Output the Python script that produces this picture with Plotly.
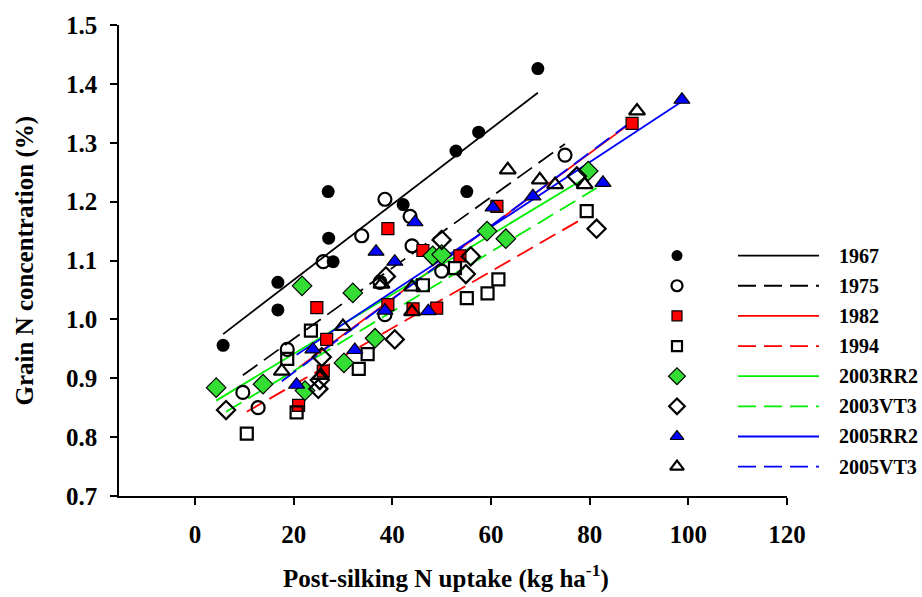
import plotly.graph_objects as go

# ---------------- data ----------------
series_names = ["1967", "1975", "1982", "1994", "2003RR2", "2003VT3", "2005RR2", "2005VT3"]

x_1967 = [5.7, 16.8, 16.8, 27.0, 27.1, 28.0, 42.2, 52.9, 55.1, 57.5, 69.5]
y_1967 = [0.956, 1.063, 1.016, 1.217, 1.138, 1.098, 1.195, 1.286, 1.217, 1.318, 1.426]

x_1975 = [9.7, 12.8, 18.7, 26.0, 33.8, 38.5, 38.5, 37.5, 43.6, 44.0, 50.0, 75.0]
y_1975 = [0.876, 0.850, 0.949, 1.098, 1.142, 1.204, 1.008, 1.063, 1.175, 1.125, 1.082, 1.279]

x_1982 = [21.0, 24.7, 26.7, 26.0, 39.1, 39.1, 44.2, 46.2, 49.0, 53.7, 61.2, 88.6]
y_1982 = [0.854, 1.020, 0.966, 0.912, 1.154, 1.025, 1.018, 1.117, 1.019, 1.108, 1.192, 1.333]

x_1994 = [10.5, 20.6, 18.7, 23.5, 33.2, 35.0, 46.2, 52.7, 55.1, 59.3, 61.5, 79.4]
y_1994 = [0.806, 0.842, 0.933, 0.981, 0.916, 0.941, 1.058, 1.087, 1.036, 1.044, 1.068, 1.184]

x_2003RR2 = [4.3, 13.8, 21.7, 22.3, 30.2, 32.0, 36.5, 48.2, 50.0, 59.2, 63.0, 79.7]
y_2003RR2 = [0.884, 0.890, 1.057, 0.879, 0.926, 1.045, 0.968, 1.108, 1.110, 1.150, 1.137, 1.252]

x_2003VT3 = [6.3, 25.7, 25.0, 25.3, 38.7, 40.5, 50.0, 55.9, 54.9, 77.4, 81.4]
y_2003VT3 = [0.846, 0.936, 0.882, 0.897, 1.073, 0.966, 1.135, 1.107, 1.077, 1.243, 1.154]

x_2005RR2 = [20.6, 23.9, 32.4, 36.7, 38.5, 40.5, 44.6, 47.3, 60.4, 68.5, 82.7, 98.7]
y_2005RR2 = [0.889, 0.949, 0.948, 1.115, 1.015, 1.098, 1.165, 1.014, 1.190, 1.209, 1.232, 1.373]

x_2005VT3 = [17.6, 25.5, 30.0, 37.8, 44.0, 44.0, 63.4, 69.9, 73.0, 79.0, 89.6]
y_2005VT3 = [0.912, 0.905, 0.988, 1.060, 1.055, 1.013, 1.254, 1.237, 1.229, 1.229, 1.354]

# regression-line end points (one entry per series)
fit_x0 = [5.7, 9.7, 21.0, 10.5, 4.3, 6.3, 20.6, 17.6]
fit_y0 = [0.975, 0.905, 0.918, 0.843, 0.862, 0.843, 0.940, 0.895]
fit_x1 = [69.5, 75.0, 88.6, 79.4, 79.7, 81.4, 98.7, 89.6]
fit_y1 = [1.385, 1.298, 1.335, 1.175, 1.243, 1.223, 1.370, 1.343]

x_ticks = [0, 20, 40, 60, 80, 100, 120]
y_ticks = [0.7, 0.8, 0.9, 1.0, 1.1, 1.2, 1.3, 1.4, 1.5]
x_range = [-15.4, 120]
y_range = [0.7, 1.5]

# ---------------- styles ----------------
RED, GREEN, BLUE = "#FF0000", "#00EE00", "#0000FF"
GREEN_FILL = "#33DD33"
DASH = "18px,8px"
styles = {
    "1967":    dict(symbol="circle", color="black", lw=0, size=13, line_color="black", dash="solid"),
    "1975":    dict(symbol="circle-open", color="black", lw=2.2, size=13, line_color="black", dash=DASH),
    "1982":    dict(symbol="square", color=RED, lw=1.2, size=12, line_color=RED, dash="solid"),
    "1994":    dict(symbol="square-open", color="black", lw=2.2, size=12, line_color=RED, dash=DASH),
    "2003RR2": dict(symbol="diamond", color=GREEN_FILL, lw=1.2, size=15, line_color=GREEN, dash="solid"),
    "2003VT3": dict(symbol="diamond-open", color="black", lw=2.2, size=14, line_color=GREEN, dash=DASH),
    "2005RR2": dict(symbol="triangle-up", color=BLUE, lw=1.2, size=14, line_color=BLUE, dash="solid"),
    "2005VT3": dict(symbol="triangle-up-open", color="black", lw=2.2, size=14, line_color=BLUE, dash=DASH),
}
xs = [x_1967, x_1975, x_1982, x_1994, x_2003RR2, x_2003VT3, x_2005RR2, x_2005VT3]
ys = [y_1967, y_1975, y_1982, y_1994, y_2003RR2, y_2003VT3, y_2005RR2, y_2005VT3]

FONT = "Times New Roman, Liberation Serif, serif"
W, H = 922, 597
L, R, T, B = 119, 787, 18, 496   # plot area in pixels

fig = go.Figure()

# regression lines
for i, name in enumerate(series_names):
    st = styles[name]
    fig.add_trace(go.Scatter(
        x=[fit_x0[i], fit_x1[i]], y=[fit_y0[i], fit_y1[i]], mode="lines",
        line=dict(color=st["line_color"], width=1.8, dash=st["dash"]),
        showlegend=False, hoverinfo="skip"))

# points
for i, name in enumerate(series_names):
    st = styles[name]
    fig.add_trace(go.Scatter(
        x=xs[i], y=ys[i], mode="markers", name=name, showlegend=False,
        marker=dict(symbol=st["symbol"], size=st["size"], color=st["color"],
                    line=dict(color="black", width=st["lw"]))))

# ---------------- custom legend (positions in pixels) ----------------
def px_x(px):
    return (px - L) / (R - L)

def px_y(py):
    return (B - py) / (B - T)

row0, row_step = 252, 30.6
for i, name in enumerate(series_names):
    st = styles[name]
    yy = px_y(row0 + i * row_step)
    fig.add_trace(go.Scatter(
        x=[px_x(677)], y=[yy], xaxis="x2", yaxis="y2", mode="markers",
        showlegend=False, hoverinfo="skip", cliponaxis=False,
        marker=dict(symbol=st["symbol"], size=st["size"] - 2, color=st["color"],
                    line=dict(color="black", width=st["lw"]))))
    fig.add_shape(type="line", xref="paper", yref="paper",
                  x0=px_x(738), x1=px_x(819), y0=yy, y1=yy,
                  line=dict(color=st["line_color"], width=1.8, dash=st["dash"]))
    fig.add_annotation(xref="paper", yref="paper", x=px_x(838), y=yy,
                       text=name, showarrow=False, xanchor="left", yanchor="middle",
                       borderpad=0, font=dict(family=FONT, size=20, color="black", weight="bold"))

# axis titles
fig.add_annotation(xref="paper", yref="paper", x=px_x(446), y=px_y(578),
                   text="Post-silking N uptake (kg ha<sup>-1</sup>)", showarrow=False,
                   xanchor="center", yanchor="middle",
                   font=dict(family=FONT, size=25, color="black", weight="bold"))
fig.add_annotation(xref="paper", yref="paper", x=px_x(24), y=0.5,
                   text="Grain N concentration (%)", showarrow=False, textangle=-90,
                   xanchor="center", yanchor="middle",
                   font=dict(family=FONT, size=25, color="black", weight="bold"))

tickfont = dict(family=FONT, size=25, color="black", weight="bold")
fig.update_layout(
    width=W, height=H,
    margin=dict(l=L, r=W - R, t=T, b=H - B, pad=0),
    paper_bgcolor="white", plot_bgcolor="white",
    showlegend=False,
    xaxis=dict(range=x_range, tickvals=x_ticks, ticktext=[str(v) for v in x_ticks],
               showgrid=False, zeroline=False, showline=True, linecolor="black", linewidth=1.5,
               ticks="outside", ticklen=7, tickwidth=1.5, tickcolor="black",
               tickfont=tickfont, ticklabelstandoff=8),
    yaxis=dict(range=y_range, tickvals=y_ticks, ticktext=[f"{v:.1f}" for v in y_ticks],
               showgrid=False, zeroline=False, showline=True, linecolor="black", linewidth=1.5,
               ticks="outside", ticklen=7, tickwidth=1.5, tickcolor="black",
               tickfont=tickfont, ticklabelstandoff=8),
    xaxis2=dict(overlaying="x", range=[0, 1], visible=False),
    yaxis2=dict(overlaying="y", range=[0, 1], visible=False),
)

fig.write_html("out.html", config={"displayModeBar": False},
               post_script="document.body.style.margin='0';document.body.style.overflow='hidden';")
